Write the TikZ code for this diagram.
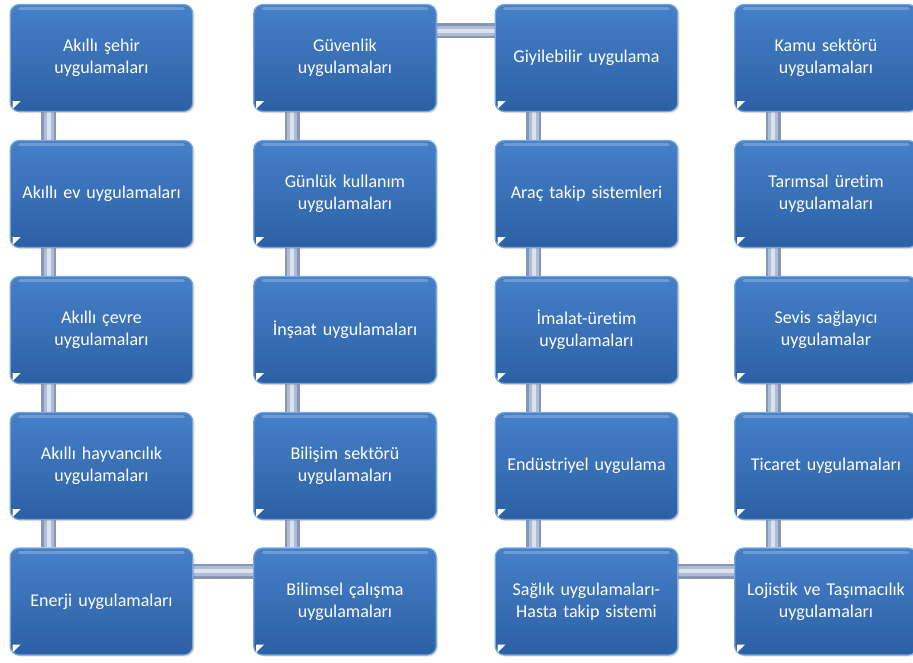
\documentclass[tikz,border=0pt]{standalone}
\usepackage{fontspec}
\setmainfont[Ligatures=NoCommon]{Carlito}
\usetikzlibrary{calc,shadows,backgrounds}
\definecolor{boxtop}{HTML}{4680C8}
\definecolor{boxbot}{HTML}{2C60A5}
\definecolor{boxedge}{HTML}{78A8DE}
\definecolor{pipeA}{HTML}{8696B4}
\definecolor{pipeB}{HTML}{AEBCD5}
\definecolor{pipeC}{HTML}{DCE3EF}
\tikzset{
  card/.style={rectangle, rounded corners=9pt, minimum width=182pt, minimum height=107pt,
    top color=boxtop, bottom color=boxbot, draw=boxedge, line width=1.2pt,
    text=white, align=center, text width=176pt,
    font=\fontsize{18}{22}\selectfont,
    drop shadow={opacity=0.25, shadow xshift=1.5pt, shadow yshift=-1.5pt}},
  pipe/.style={draw=pipeC, line width=4pt,
    preaction={draw=pipeA, line width=15pt},
    preaction={draw=pipeB, line width=10pt}},
  corner/.style={fill=white, draw=none},
  gloss/.style={draw=white, draw opacity=0.22, line width=3pt, line cap=round}
}
\begin{document}
\begin{tikzpicture}[x=1pt,y=-1pt]
\useasboundingbox (0,0) rectangle (913,662);
\def\cA{101.5}\def\cB{345}\def\cC{586.5}\def\cD{826}
\node[card] (a1) at (\cA,58) {Akıllı şehir\\uygulamaları};
\node[card] (a2) at (\cA,194) {Akıllı ev uygulamaları};
\node[card] (a3) at (\cA,330) {Akıllı çevre\\uygulamaları};
\node[card] (a4) at (\cA,466) {Akıllı hayvancılık\\uygulamaları};
\node[card] (a5) at (\cA,601.5) {Enerji uygulamaları};
\node[card] (b1) at (\cB,58) {Güvenlik\\uygulamaları};
\node[card] (b2) at (\cB,194) {Günlük kullanım\\uygulamaları};
\node[card] (b3) at (\cB,330) {İnşaat uygulamaları};
\node[card] (b4) at (\cB,466) {Bilişim sektörü\\uygulamaları};
\node[card] (b5) at (\cB,601.5) {Bilimsel çalışma\\uygulamaları};
\node[card] (c1) at (\cC,58) {Giyilebilir uygulama};
\node[card] (c2) at (\cC,194) {Araç takip sistemleri};
\node[card] (c3) at (\cC,330) {İmalat-üretim\\uygulamaları};
\node[card] (c4) at (\cC,466) {Endüstriyel uygulama};
\node[card] (c5) at (\cC,601.5) {Sağlık uygulamaları-\\Hasta takip sistemi};
\node[card] (d1) at (\cD,58) {Kamu sektörü\\uygulamaları};
\node[card] (d2) at (\cD,194) {Tarımsal üretim\\uygulamaları};
\node[card] (d3) at (\cD,330) {Sevis sağlayıcı\\uygulamalar};
\node[card] (d4) at (\cD,466) {Ticaret uygulamaları};
\node[card] (d5) at (\cD,601.5) {Lojistik ve Taşımacılık\\uygulamaları};
% gloss lines and corner marks
\foreach \n in {a1,a2,a3,a4,a5,b1,b2,b3,b4,b5,c1,c2,c3,c4,c5,d1,d2,d3,d4,d5}{
  \draw[gloss] ($(\n.north west)+(10,5)$) -- ($(\n.north east)+(-10,5)$);
  \fill[corner] ($(\n.south west)+(3,-11)$) -- ($(\n.south west)+(11,-11)$) -- ($(\n.south west)+(3,-3)$) -- cycle;
}
% pipes behind boxes
\begin{pgfonlayer}{background}
\foreach \col in {a,b,c,d}{
  \foreach \r/\s in {1/2,2/3,3/4,4/5}{
    \draw[pipe] ($(\col\r.south west)+(39,0)$) -- ($(\col\s.north west)+(39,0)$);
  }
}
\draw[pipe] ($(a5.north east)+(0,24)$) -- ($(b5.north west)+(0,24)$);
\draw[pipe] ($(b1.north east)+(0,27)$) -- ($(c1.north west)+(0,27)$);
\draw[pipe] ($(c5.north east)+(0,24)$) -- ($(d5.north west)+(0,24)$);
\end{pgfonlayer}
\end{tikzpicture}
\end{document}
